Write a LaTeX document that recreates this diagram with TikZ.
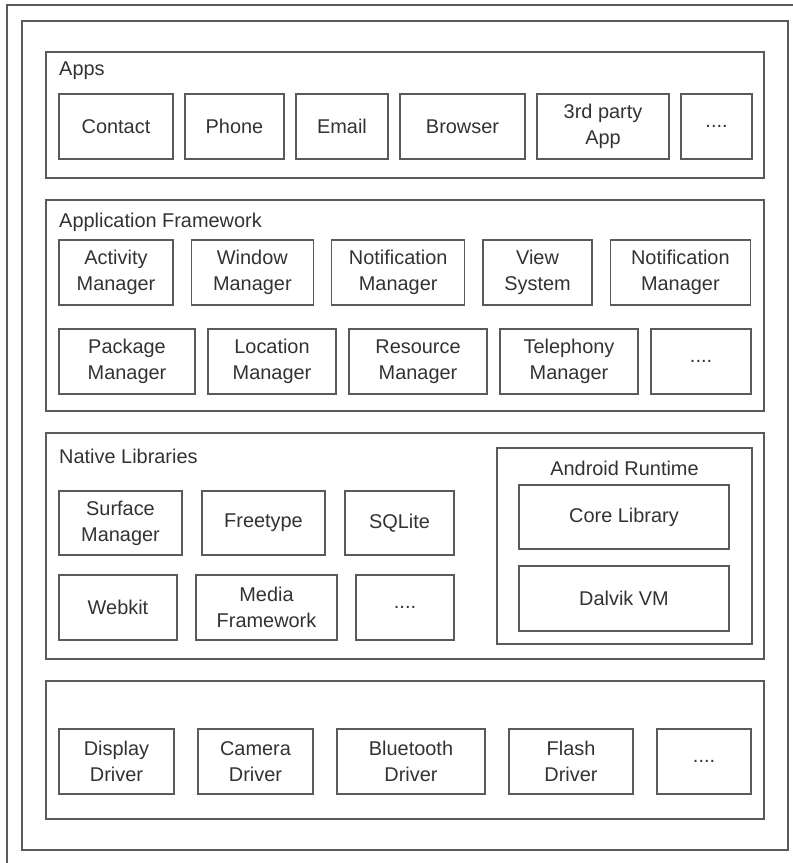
\documentclass[tikz,border=0pt]{standalone}
\usepackage{fontspec}
\setmainfont{Liberation Sans}
\usepackage{tikz}
\usetikzlibrary{positioning}
\definecolor{linegray}{RGB}{90,90,90}
\definecolor{textgray}{RGB}{50,50,50}
\tikzset{
  layer/.style={
      draw=linegray,
      line width=1.2pt,
      rectangle,
      anchor=north west,
      inner sep=0pt,
      outer sep=0pt
  },
  component/.style={
      draw=linegray,
      line width=1.2pt,
      rectangle,
      minimum height=1.95cm,
      align=center,
      inner sep=0pt,
      outer sep=0pt,
      text=textgray,
      font=\fontsize{17}{22}\selectfont
  },
  title/.style={
      anchor=base west,
      inner sep=0pt,
      text=textgray,
      font=\fontsize{17}{22}\selectfont
  }
}

\begin{document}
\begin{tikzpicture}[x=0.03cm, y=-0.03cm]
      \useasboundingbox (0,0) rectangle (793,863);
      % Frames
      \draw[linegray, line width=1.2pt] (7,863) -- (7,5) -- (793,5);
      \node (stack) [layer, minimum width=22.98cm, minimum height=24.87cm] at (22,21) {};

      % Apps
      \node (apps) [layer, minimum width=21.54cm, minimum height=3.78cm] at (46,52) {};
      \node (appstitle) [title] at (59,75) {Apps};
      \node (contact) [component, minimum width=3.42cm, anchor=west] at (59,126.5) {Contact};
      \node (phone) [component, minimum width=2.97cm, right=0.36cm of contact] {Phone};
      \node (email) [component, minimum width=2.76cm, right=0.36cm of phone] {Email};
      \node (browser) [component, minimum width=3.75cm, right=0.36cm of email] {Browser};
      \node (thirdparty) [component, minimum width=3.96cm, right=0.36cm of browser] {3rd party\\App};
      \node (appsmore) [component, minimum width=2.13cm, right=0.36cm of thirdparty] {....};

      % Application Framework
      \node (framework) [layer, minimum width=21.54cm, minimum height=6.33cm] at (46,200) {};
      \node (frameworktitle) [title] at (59,227) {Application Framework};
      \node (activity) [component, minimum width=3.42cm, anchor=west] at (59,272.5) {Activity\\Manager};
      \node (window) [component, minimum width=3.66cm, right=0.55cm of activity] {Window\\Manager};
      \node (notifya) [component, minimum width=3.99cm, right=0.55cm of window] {Notification\\Manager};
      \node (view) [component, minimum width=3.27cm, right=0.55cm of notifya] {View\\System};
      \node (notifyb) [component, minimum width=4.20cm, right=0.55cm of view] {Notification\\Manager};
      \node (package) [component, minimum width=4.08cm, anchor=west] at (59,361.5) {Package\\Manager};
      \node (location) [component, minimum width=3.84cm, right=0.39cm of package] {Location\\Manager};
      \node (resource) [component, minimum width=4.14cm, right=0.39cm of location] {Resource\\Manager};
      \node (telephony) [component, minimum width=4.14cm, right=0.39cm of resource] {Telephony\\Manager};
      \node (frameworkmore) [component, minimum width=3.00cm, right=0.39cm of telephony] {....};

      % Native Libraries
      \node (libraries) [layer, minimum width=21.54cm, minimum height=6.78cm] at (46,433) {};
      \node (librariestitle) [title] at (59,463) {Native Libraries};
      \node (surface) [component, minimum width=3.69cm, minimum height=1.92cm, anchor=west] at (59,523) {Surface\\Manager};
      \node (freetype) [component, minimum width=3.69cm, minimum height=1.92cm, right=0.6cm of surface] {Freetype};
      \node (sqlite) [component, minimum width=3.27cm, minimum height=1.92cm, right=0.6cm of freetype] {SQLite};
      \node (webkit) [component, minimum width=3.54cm, anchor=west] at (59,607.5) {Webkit};
      \node (media) [component, minimum width=4.23cm, right=0.57cm of webkit] {Media\\Framework};
      \node (librariesmore) [component, minimum width=2.94cm, right=0.57cm of media] {....};

      % Android Runtime
      \node (runtime) [layer, minimum width=7.65cm, minimum height=5.88cm] at (497,448) {};
      \node (runtimetitle) [title, anchor=base] at (624.5,475) {Android Runtime};
      \node (core) [component, minimum width=6.3cm, minimum height=1.92cm] at (624,517) {Core Library};
      \node (dalvik) [component, minimum width=6.3cm, below=0.51cm of core] {Dalvik VM};

      % Drivers
      \node (kernel) [layer, minimum width=21.54cm, minimum height=4.14cm] at (46,681) {};
      \node (display) [component, minimum width=3.45cm, anchor=west] at (59,761.5) {Display\\Driver};
      \node (camera) [component, minimum width=3.45cm, right=0.72cm of display] {Camera\\Driver};
      \node (bluetooth) [component, minimum width=4.44cm, right=0.72cm of camera] {Bluetooth\\Driver};
      \node (flash) [component, minimum width=3.72cm, right=0.72cm of bluetooth] {Flash\\Driver};
      \node (kernelmore) [component, minimum width=2.82cm, right=0.72cm of flash] {....};
    \end{tikzpicture}
\end{document}
